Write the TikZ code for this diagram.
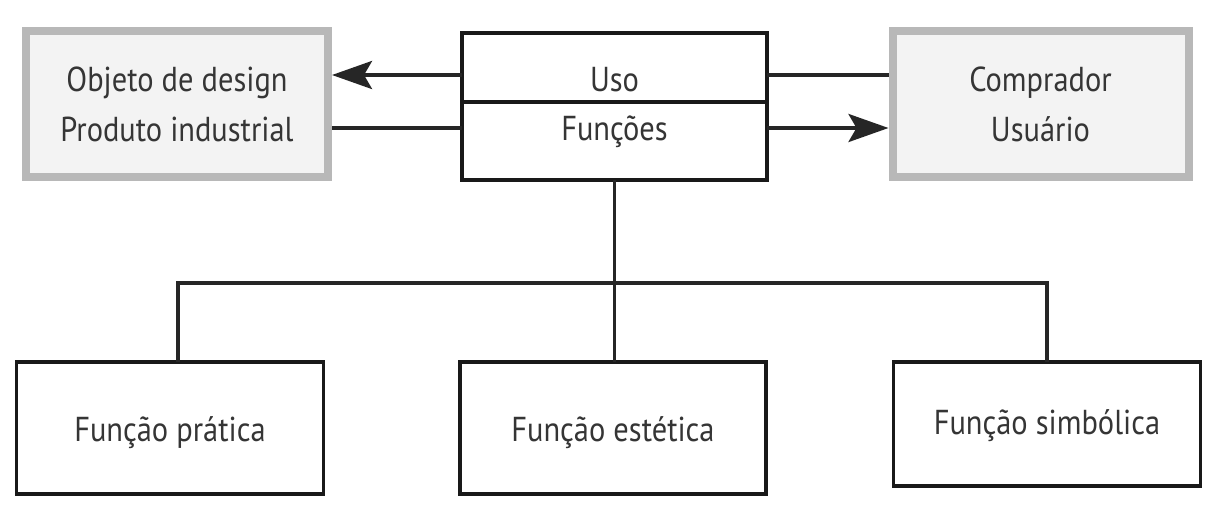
\documentclass[tikz,border=0pt]{standalone}
\usepackage{fontspec}
\setmainfont{PT Sans}[FakeStretch=0.88]
\usetikzlibrary{arrows.meta}
\definecolor{txt}{HTML}{353535}
\definecolor{grayedge}{HTML}{B8B8B8}
\definecolor{grayfill}{HTML}{F3F3F3}
\tikzset{
  fnt/.style={font=\fontsize{17.3}{25}\selectfont},
  graybox/.style={draw=grayedge, fill=grayfill, line width=4pt, align=center, text=txt, fnt, inner sep=0pt},
  blackbox/.style={draw=black!90, line width=1.9pt, outer sep=0pt, inner sep=0pt},
  lbl/.style={text=txt, fnt, inner sep=0pt, align=center},
  conn/.style={draw=black!85, line width=1.9pt},
  arr/.style={conn, -{Stealth[length=20pt,width=14pt,inset=4pt]}}
}
\begin{document}
\begin{tikzpicture}[x=0.5pt,y=-0.5pt]
\useasboundingbox (0,0) rectangle (1217,504);
\fill[white] (0,0) rectangle (1217,504);
% top row
\node[graybox, minimum width=151pt, minimum height=73pt] (obj) at (177,104) {Objeto de design\\Produto industrial};
\node[graybox, minimum width=148pt, minimum height=73pt] (comp) at (1040.5,104) {Comprador\\Usuário};
\node[blackbox, minimum width=152.5pt, minimum height=34.5pt] (uso) at (614.5,67.5) {};
\node[blackbox, minimum width=152.5pt, minimum height=39pt, anchor=north] (func) at (uso.south) {};
\node[lbl] (usot) at ([yshift=-6pt]uso.center) {Uso};
\node[lbl] (funct) at ([yshift=4.5pt]func.center) {Funções};
% bottom row
\node[blackbox, minimum width=153.5pt, minimum height=66pt] (p1) at (170,428) {};
\node[blackbox, minimum width=153pt, minimum height=66pt] (p2) at (613,428) {};
\node[blackbox, minimum width=153.5pt, minimum height=62pt] (p3) at (1047,424) {};
\node[lbl] (p1t) at ([yshift=-2.5pt]p1.center) {Função prática};
\node[lbl] (p2t) at ([yshift=-2.5pt]p2.center) {Função estética};
\node[lbl] (p3t) at ([yshift=-1pt]p3.center) {Função simbólica};
% connectors
\draw[arr] ([yshift=-3.75pt]uso.west) -- ([yshift=-3.75pt]uso.west -| obj.east);
\draw[conn] ([yshift=6.5pt]func.west) -- ([yshift=6.5pt]func.west -| obj.east);
\draw[conn] ([yshift=-3.75pt]uso.east) -- ([yshift=-3.75pt]uso.east -| comp.west);
\draw[arr] ([yshift=6.5pt]func.east) -- ([yshift=6.5pt]func.east -| comp.west);
\coordinate (j) at (614.5,283);
\draw[conn] (func.south) -- (j);
\draw[conn] ([xshift=4pt]p1.north) |- (j) -| (p3.north);
\draw[conn] (j) -- (j |- p2.north);
\end{tikzpicture}
\end{document}
